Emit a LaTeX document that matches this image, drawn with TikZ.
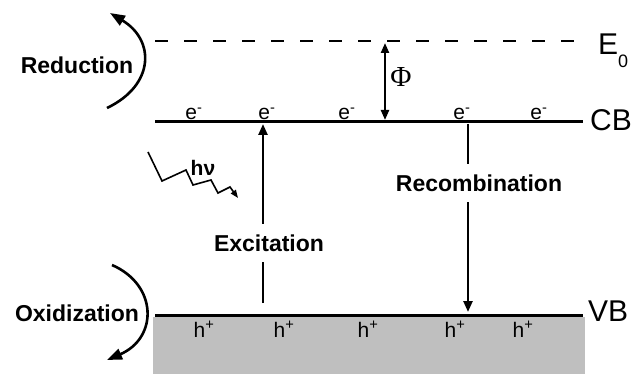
\documentclass[tikz,border=0pt]{standalone}
\usepackage{fontspec}
\setmainfont{Liberation Sans}
\newfontfamily\phifont{Liberation Serif}
\usetikzlibrary{arrows.meta}
\tikzset{
  band/.style={line width=3pt},
  level/.style={font=\fontsize{30}{30}\selectfont, inner sep=0pt},
  carrier/.style={font=\fontsize{21}{21}\selectfont, anchor=base, inner sep=0pt},
  process/.style={font=\bfseries\fontsize{23}{23}\selectfont, inner sep=0pt},
  gap/.style={fill=white, inner xsep=3pt, inner ysep=11pt},
  turn/.style={line width=2.6pt, -{Triangle[length=15pt,width=11pt]}},
  jump/.style={line width=2.4pt, -{Triangle[length=11pt,width=9pt]}}
}
\begin{document}
\begin{tikzpicture}[x=1pt,y=-1pt]
\useasboundingbox (0,0) rectangle (632,374);
\def\xl{155};
\def\xr{583};
\def\ye{41};
\def\ycb{122};
\def\yvb{315};

% valence band body
\fill[black!25] (153,317) rectangle (585,374);

\coordinate (el) at (\xl, \ye);
\coordinate (er) at (580, \ye);
\coordinate (cl) at (\xl, \ycb);
\coordinate (cr) at (\xr, \ycb);
\coordinate (vl) at (\xl, \yvb);
\coordinate (vr) at (\xr, \yvb);
\draw[line width=2.8pt, dash pattern=on 13pt off 16pt] (el) -- (er);
\draw[band] (cl) -- (cr);
\draw[band] (vl) -- (vr);

\node[level, anchor=base west] (e0) at (598, 55) {E\raisebox{-13pt}{\fontsize{18}{18}\selectfont 0}};
\node[level, anchor=west] (cb) at (590, 120) {CB};
\node[level, anchor=west] (vb) at (588, 311) {VB};

% carriers
\foreach \x [count=\i] in {191, 264, 344, 459, 536}
  \node[carrier] (e\i) at (\x+3, 120) {e\textsuperscript{-}};
\foreach \x [count=\i] in {201, 281, 365, 452, 520}
  \node[carrier] (h\i) at (\x+3, 337) {h\textsuperscript{+}};

% work function
\coordinate (p1) at (385, 43);
\coordinate (p2) at (385, 120);
\draw[line width=2.2pt, {Triangle[length=10pt,width=8pt]}-{Triangle[length=10pt,width=8pt]}] (p1) -- (p2);
\node[font=\phifont\fontsize{29}{29}\selectfont, inner sep=0pt] (phi) at (401, 77) {Φ};

% excitation and recombination
\coordinate (x1) at (263, 303);
\coordinate (x2) at (263, 124);
\draw[jump] (x1) -- (x2);
\node[process, gap] (exc) at (269, 243) {Excitation};
\coordinate (r1) at (468, 124);
\coordinate (r2) at (468, 312);
\draw[jump] (r1) -- (r2);
\node[process, gap] (rec) at (479, 183) {Recombination};

% light
\coordinate (w0) at (148, 152);
\coordinate (w1) at (238, 198);
\draw[line width=1.6pt, -{Triangle[length=8pt,width=6pt]}] (w0) -- (162, 181) -- (186, 170) -- (193, 185)
  -- (211, 180) -- (218, 193) -- (230, 187) -- (w1);
\node[font=\bfseries\fontsize{21}{21}\selectfont, inner sep=0pt] (hv) at (203, 168) {hν};

% surface reactions
\node[process] (red) at (77, 65) {Reduction};
\coordinate (a1) at (107, 108);
\coordinate (a2) at (110, 13);
\draw[turn] (a1) .. controls (155, 85) and (155, 40) .. (a2);
\node[process] (oxi) at (77, 313) {Oxidization};
\coordinate (b1) at (112, 265);
\coordinate (b2) at (107, 360);
\draw[turn] (b1) .. controls (158, 285) and (158, 338) .. (b2);
\end{tikzpicture}
\end{document}
